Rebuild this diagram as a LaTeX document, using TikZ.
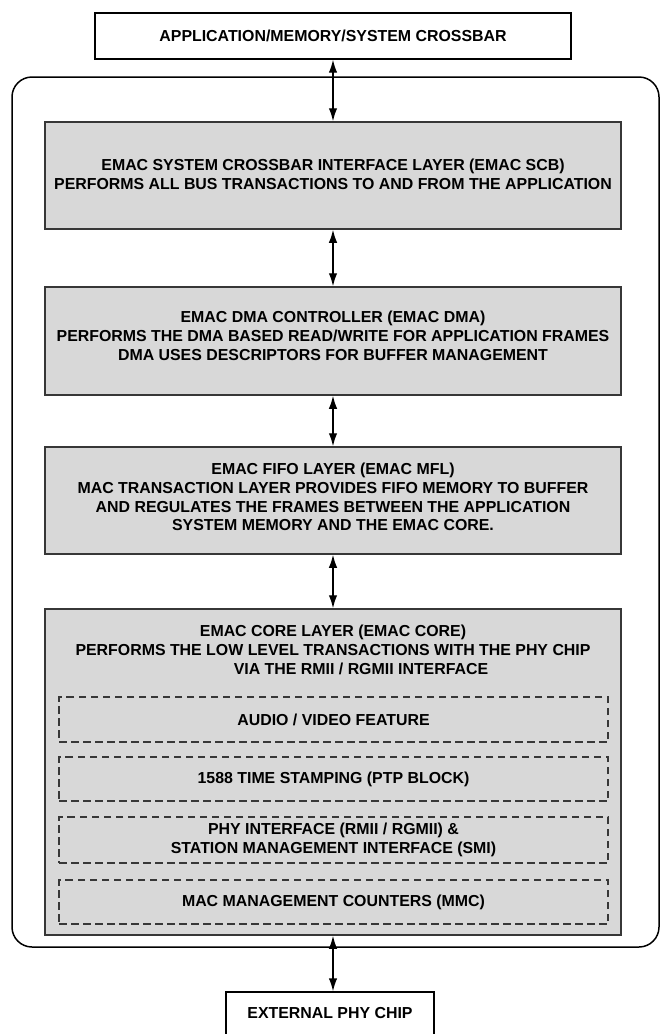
\documentclass[tikz,border=0pt]{standalone}
\usepackage{fontspec}
\setmainfont{Liberation Sans}
\usetikzlibrary{arrows.meta,positioning,calc}
\definecolor{boxgray}{RGB}{216,216,216}
\definecolor{boxline}{RGB}{55,55,55}
\newcommand{\lbfont}{\fontsize{15.9}{18.8}\selectfont\bfseries}
\tikzset{
  plainbox/.style={draw=black, fill=white, line width=1.4pt, rectangle, inner sep=0pt},
  graybox/.style={draw=boxline, fill=boxgray, line width=1.5pt, rectangle, inner sep=0pt, minimum width=576pt},
  dashbox/.style={draw=boxline, dash pattern=on 7.5pt off 4.5pt, line width=1.3pt, rectangle, inner sep=0pt, minimum width=549pt},
  lbl/.style={font=\lbfont, align=center, inner sep=0pt, text=black},
  biarrow/.style={{Latex[length=13pt,width=8.5pt]}-{Latex[length=13pt,width=8.5pt]}, line width=1.4pt},
  container/.style={draw=black, line width=1.5pt, rounded corners=20pt, rectangle, inner sep=0pt}
}
\begin{document}
\begin{tikzpicture}[x=1pt,y=-1pt]
\useasboundingbox (0,0) rectangle (660,1034);
% container
\node[container, minimum width=647pt, minimum height=870pt] (cont) at (335.5,512) {};
% top box
\node[plainbox, minimum width=476pt, minimum height=46pt] (app) at (333,36) {};
\node[lbl] (applbl) at (app.center) {APPLICATION/MEMORY/SYSTEM CROSSBAR};
% gray boxes
\node[graybox, minimum height=107pt] (scb) at (333,175.5) {};
\node[lbl] (scblbl) at (333,174) {EMAC SYSTEM CROSSBAR INTERFACE LAYER (EMAC SCB)\\PERFORMS ALL BUS TRANSACTIONS TO AND FROM THE APPLICATION};
\node[graybox, minimum height=108pt] (dma) at (333,341) {};
\node[lbl] (dmalbl) at (333,336) {EMAC DMA CONTROLLER (EMAC DMA)\\PERFORMS THE DMA BASED READ/WRITE FOR APPLICATION FRAMES\\DMA USES DESCRIPTORS FOR BUFFER MANAGEMENT};
\node[graybox, minimum height=107pt] (mfl) at (333,500.5) {};
\node[lbl] (mfllbl) at (333,497) {EMAC FIFO LAYER (EMAC MFL)\\MAC TRANSACTION LAYER PROVIDES FIFO MEMORY TO BUFFER\\AND REGULATES THE FRAMES BETWEEN THE APPLICATION\\SYSTEM MEMORY AND THE EMAC CORE.};
\node[graybox, minimum height=326pt] (core) at (333,772) {};
\node[lbl] (corelbl) at (333,650) {EMAC CORE LAYER (EMAC CORE)\\PERFORMS THE LOW LEVEL TRANSACTIONS WITH THE PHY CHIP\\\hspace*{56pt}VIA THE RMII / RGMII INTERFACE};
% dashed sub-blocks
\node[dashbox, minimum height=45pt] (av) at (333.5,719.5) {};
\node[lbl] (avlbl) at (av.center) {AUDIO / VIDEO FEATURE};
\node[dashbox, minimum height=44pt] (ptp) at (333.5,779) {};
\node[lbl] (ptplbl) at (ptp.center) {1588 TIME STAMPING (PTP BLOCK)};
\node[dashbox, minimum height=46pt] (phy) at (333.5,840) {};
\node[lbl] (phylbl) at (phy.center) {PHY INTERFACE (RMII / RGMII) \&\\STATION MANAGEMENT INTERFACE (SMI)};
\node[dashbox, minimum height=44pt] (mmc) at (333.5,902) {};
\node[lbl] (mmclbl) at (mmc.center) {MAC MANAGEMENT COUNTERS (MMC)};
% external
\node[plainbox, minimum width=208pt, minimum height=60pt] (ext) at (330,1022) {};
\node[lbl] (extlbl) at (330,1013) {EXTERNAL PHY CHIP};
% arrows
\draw[biarrow] (app.south) -- (scb.north);
\draw[biarrow] (scb.south) -- (dma.north);
\draw[biarrow] (dma.south) -- (mfl.north);
\draw[biarrow] (mfl.south) -- (core.north);
\draw[biarrow] (core.south) -- (core.south |- ext.north);
\end{tikzpicture}
\end{document}
